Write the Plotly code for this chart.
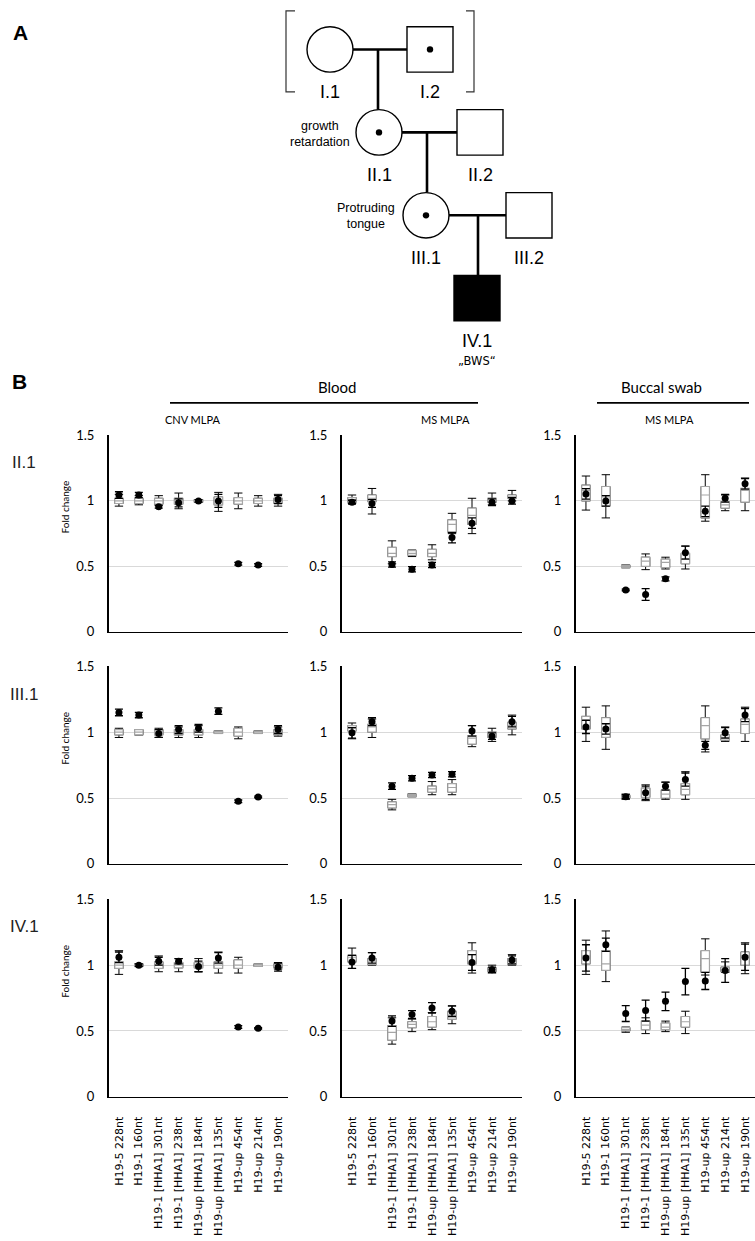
import plotly.graph_objects as go

W, H = 755, 1241

# ---------------- data ----------------
categories = ["H19-5 228nt", "H19-1 160nt", "H19-1 [HHA1] 301nt", "H19-1 [HHA1] 238nt",
              "H19-up [HHA1] 184nt", "H19-up [HHA1] 135nt", "H19-up 454nt",
              "H19-up 214nt", "H19-up 190nt"]
row_names = ["II.1", "III.1", "IV.1"]
y_tick_values = [0, 0.5, 1, 1.5]
y_tick_labels = ["0", "0.5", "1", "1.5"]

# II.1 - blood CNV MLPA
ii1_cnv_q1 = [0.98, 0.98, 0.975, 0.975, 0.99, 0.97, 0.975, 0.98, 0.98]
ii1_cnv_med = [1.0, 1.0, 1.0, 1.0, 1.0, 1.0, 1.0, 1.0, 1.0]
ii1_cnv_q3 = [1.02, 1.02, 1.02, 1.02, 1.01, 1.03, 1.025, 1.02, 1.02]
ii1_cnv_lo = [0.96, 0.97, 0.97, 0.94, 0.99, 0.92, 0.94, 0.96, 0.96]
ii1_cnv_hi = [1.05, 1.04, 1.04, 1.06, 1.01, 1.065, 1.06, 1.04, 1.05]
ii1_cnv_pt = [1.045, 1.045, 0.955, 0.985, 1.0, 1.0, 0.52, 0.51, 1.01]
ii1_cnv_err = [0.025, 0.02, 0.01, 0.03, 0.01, 0.05, 0.01, 0.01, 0.03]

# II.1 - blood MS MLPA
ii1_ms_q1 = [0.99, 0.995, 0.575, 0.585, 0.575, 0.76, 0.82, 0.99, 1.02]
ii1_ms_med = [1.01, 1.02, 0.6, 0.6, 0.6, 0.82, 0.89, 1.0, 1.03]
ii1_ms_q3 = [1.025, 1.045, 0.645, 0.62, 0.63, 0.855, 0.945, 1.02, 1.045]
ii1_ms_lo = [0.98, 0.9, 0.52, 0.575, 0.55, 0.75, 0.75, 0.97, 1.0]
ii1_ms_hi = [1.045, 1.095, 0.695, 0.625, 0.665, 0.905, 1.02, 1.06, 1.08]
ii1_ms_pt = [0.99, 0.98, 0.515, 0.478, 0.51, 0.72, 0.83, 0.99, 1.0]
ii1_ms_err = [0.015, 0.03, 0.02, 0.02, 0.02, 0.04, 0.04, 0.025, 0.025]

# II.1 - buccal swab MS MLPA
ii1_bs_q1 = [1.0, 0.96, 0.49, 0.5, 0.49, 0.52, 0.87, 0.945, 0.99]
ii1_bs_med = [1.08, 1.03, 0.5, 0.54, 0.53, 0.56, 1.045, 0.97, 1.08]
ii1_bs_q3 = [1.12, 1.11, 0.51, 0.57, 0.555, 0.6, 1.11, 0.995, 1.095]
ii1_bs_lo = [0.93, 0.87, 0.49, 0.475, 0.48, 0.48, 0.845, 0.925, 0.925]
ii1_bs_hi = [1.19, 1.2, 0.51, 0.595, 0.57, 0.655, 1.2, 1.045, 1.175]
ii1_bs_pt = [1.053, 1.0, 0.32, 0.285, 0.405, 0.605, 0.92, 1.02, 1.13]
ii1_bs_err = [0.04, 0.04, 0.006, 0.045, 0.015, 0.05, 0.04, 0.03, 0.04]

# III.1 - blood CNV MLPA
iii1_cnv_q1 = [0.98, 0.98, 0.98, 0.98, 0.98, 0.99, 0.97, 0.99, 0.98]
iii1_cnv_med = [1.0, 1.0, 1.0, 1.0, 1.0, 1.0, 1.0, 1.0, 1.0]
iii1_cnv_q3 = [1.02, 1.02, 1.02, 1.02, 1.02, 1.01, 1.03, 1.01, 1.02]
iii1_cnv_lo = [0.96, 0.98, 0.96, 0.96, 0.96, 0.99, 0.95, 0.99, 0.97]
iii1_cnv_hi = [1.03, 1.02, 1.03, 1.04, 1.05, 1.01, 1.04, 1.01, 1.04]
iii1_cnv_pt = [1.15, 1.13, 0.99, 1.02, 1.03, 1.16, 0.475, 0.508, 1.02]
iii1_cnv_err = [0.025, 0.02, 0.03, 0.03, 0.03, 0.025, 0.01, 0.006, 0.03]

# III.1 - blood MS MLPA
iii1_ms_q1 = [1.01, 1.0, 0.425, 0.51, 0.545, 0.545, 0.91, 0.96, 1.025]
iii1_ms_med = [1.03, 1.04, 0.45, 0.52, 0.57, 0.58, 0.955, 0.98, 1.05]
iii1_ms_q3 = [1.05, 1.06, 0.47, 0.53, 0.59, 0.61, 0.975, 1.0, 1.075]
iii1_ms_lo = [0.95, 0.96, 0.41, 0.51, 0.525, 0.525, 0.89, 0.93, 0.98]
iii1_ms_hi = [1.07, 1.1, 0.49, 0.53, 0.625, 0.64, 1.05, 1.03, 1.13]
iii1_ms_pt = [0.995, 1.08, 0.59, 0.65, 0.675, 0.68, 1.01, 0.97, 1.08]
iii1_ms_err = [0.04, 0.03, 0.025, 0.02, 0.02, 0.02, 0.04, 0.025, 0.04]

# III.1 - buccal swab MS MLPA
iii1_bs_q1 = [1.025, 0.96, 0.5, 0.505, 0.5, 0.525, 0.95, 0.94, 0.99]
iii1_bs_med = [1.095, 1.06, 0.51, 0.54, 0.53, 0.565, 1.05, 0.96, 1.06]
iii1_bs_q3 = [1.12, 1.11, 0.52, 0.575, 0.56, 0.61, 1.11, 0.98, 1.1]
iii1_bs_lo = [0.93, 0.87, 0.49, 0.48, 0.49, 0.49, 0.85, 0.93, 0.93]
iii1_bs_hi = [1.19, 1.2, 0.53, 0.6, 0.62, 0.7, 1.2, 1.04, 1.19]
iii1_bs_pt = [1.04, 1.025, 0.51, 0.54, 0.59, 0.64, 0.9, 0.995, 1.13]
iii1_bs_err = [0.05, 0.04, 0.015, 0.05, 0.03, 0.05, 0.03, 0.04, 0.05]

# IV.1 - blood CNV MLPA
iv1_cnv_q1 = [0.975, 0.99, 0.975, 0.98, 0.98, 0.975, 0.975, 0.99, 0.98]
iv1_cnv_med = [1.0, 1.0, 1.0, 1.0, 1.0, 1.0, 1.0, 1.0, 1.0]
iv1_cnv_q3 = [1.025, 1.01, 1.025, 1.02, 1.02, 1.025, 1.04, 1.01, 1.01]
iv1_cnv_lo = [0.93, 0.99, 0.95, 0.95, 0.95, 0.94, 0.94, 0.99, 0.97]
iv1_cnv_hi = [1.11, 1.01, 1.07, 1.05, 1.05, 1.1, 1.06, 1.01, 1.02]
iv1_cnv_pt = [1.06, 1.0, 1.03, 1.03, 0.99, 1.055, 0.53, 0.52, 0.985]
iv1_cnv_err = [0.04, 0.01, 0.03, 0.02, 0.04, 0.04, 0.01, 0.005, 0.03]

# IV.1 - blood MS MLPA
iv1_ms_q1 = [1.025, 1.005, 0.43, 0.525, 0.53, 0.59, 1.01, 0.95, 1.005]
iv1_ms_med = [1.06, 1.03, 0.49, 0.55, 0.57, 0.62, 1.08, 0.965, 1.03]
iv1_ms_q3 = [1.075, 1.05, 0.54, 0.57, 0.61, 0.65, 1.11, 0.98, 1.05]
iv1_ms_lo = [0.975, 1.0, 0.4, 0.495, 0.51, 0.555, 0.94, 0.94, 1.0]
iv1_ms_hi = [1.13, 1.095, 0.6, 0.59, 0.64, 0.69, 1.17, 1.0, 1.08]
iv1_ms_pt = [1.025, 1.055, 0.575, 0.625, 0.675, 0.65, 1.02, 0.965, 1.04]
iv1_ms_err = [0.05, 0.04, 0.04, 0.03, 0.04, 0.04, 0.06, 0.02, 0.03]

# IV.1 - buccal swab MS MLPA
iv1_bs_q1 = [1.01, 0.96, 0.5, 0.51, 0.51, 0.53, 0.945, 0.95, 1.0]
iv1_bs_med = [1.07, 1.01, 0.51, 0.545, 0.53, 0.57, 1.05, 0.965, 1.07]
iv1_bs_q3 = [1.11, 1.11, 0.525, 0.575, 0.56, 0.61, 1.11, 0.985, 1.1]
iv1_bs_lo = [0.93, 0.875, 0.49, 0.48, 0.495, 0.48, 0.925, 0.945, 0.935]
iv1_bs_hi = [1.19, 1.26, 0.53, 0.6, 0.575, 0.65, 1.2, 1.025, 1.17]
iv1_bs_pt = [1.055, 1.155, 0.632, 0.655, 0.725, 0.875, 0.88, 0.96, 1.06]
iv1_bs_err = [0.1, 0.05, 0.06, 0.08, 0.07, 0.1, 0.065, 0.09, 0.1]

# pedigree
ped_ids = ["I.1", "I.2", "II.1", "II.2", "III.1", "III.2", "IV.1"]
ped_sex = ["F", "M", "F", "M", "F", "M", "M"]
ped_carrier = [False, True, True, False, True, False, False]
ped_affected = [False, False, False, False, False, False, True]
ped_notes = ["", "", "growth<br>retardation", "", "Protruding<br>tongue", "", "„BWS“"]

# ---------------- layout helpers ----------------
def px(x):
    return x / W

def py(y):
    return 1 - y / H

panels = [
    [(ii1_cnv_q1, ii1_cnv_med, ii1_cnv_q3, ii1_cnv_lo, ii1_cnv_hi, ii1_cnv_pt, ii1_cnv_err),
     (ii1_ms_q1, ii1_ms_med, ii1_ms_q3, ii1_ms_lo, ii1_ms_hi, ii1_ms_pt, ii1_ms_err),
     (ii1_bs_q1, ii1_bs_med, ii1_bs_q3, ii1_bs_lo, ii1_bs_hi, ii1_bs_pt, ii1_bs_err)],
    [(iii1_cnv_q1, iii1_cnv_med, iii1_cnv_q3, iii1_cnv_lo, iii1_cnv_hi, iii1_cnv_pt, iii1_cnv_err),
     (iii1_ms_q1, iii1_ms_med, iii1_ms_q3, iii1_ms_lo, iii1_ms_hi, iii1_ms_pt, iii1_ms_err),
     (iii1_bs_q1, iii1_bs_med, iii1_bs_q3, iii1_bs_lo, iii1_bs_hi, iii1_bs_pt, iii1_bs_err)],
    [(iv1_cnv_q1, iv1_cnv_med, iv1_cnv_q3, iv1_cnv_lo, iv1_cnv_hi, iv1_cnv_pt, iv1_cnv_err),
     (iv1_ms_q1, iv1_ms_med, iv1_ms_q3, iv1_ms_lo, iv1_ms_hi, iv1_ms_pt, iv1_ms_err),
     (iv1_bs_q1, iv1_bs_med, iv1_bs_q3, iv1_bs_lo, iv1_bs_hi, iv1_bs_pt, iv1_bs_err)],
]

col_px = [(109, 288), (342, 522), (576, 755)]
row_px = [(433, 632), (667, 867), (903, 1103)]

LABEL_FONT = "Lato, Calibri, Carlito, sans-serif"
ARIAL = "Liberation Sans, Arial, sans-serif"

fig = go.Figure()
layout_axes = {}
annotations = []

for r in range(3):
    for c in range(3):
        i = r * 3 + c + 1
        xa = "x" if i == 1 else f"x{i}"
        ya = "y" if i == 1 else f"y{i}"
        q1, med, q3, lo, hi, pt, err = panels[r][c]
        # whiskers (black)
        fig.add_trace(go.Box(x=categories, q1=q1, median=med, q3=q3, lowerfence=lo, upperfence=hi,
                             width=0.42, whiskerwidth=1, line=dict(color="black", width=1),
                             fillcolor="white", boxpoints=False, xaxis=xa, yaxis=ya,
                             showlegend=False, hoverinfo="skip"))
        # grey box
        fig.add_trace(go.Box(x=categories, q1=q1, median=med, q3=q3, lowerfence=q1, upperfence=q3,
                             width=0.42, whiskerwidth=1, line=dict(color="#a6a6a6", width=1.2),
                             fillcolor="white", boxpoints=False, xaxis=xa, yaxis=ya,
                             showlegend=False, hoverinfo="skip"))
        # patient value
        fig.add_trace(go.Scatter(x=categories, y=pt, mode="markers",
                                 marker=dict(color="black", size=7),
                                 error_y=dict(type="data", array=err, color="black",
                                              thickness=1.3, width=4),
                                 xaxis=xa, yaxis=ya, showlegend=False, hoverinfo="skip"))
        x0, x1 = col_px[c]
        yt, yb = row_px[r]
        layout_axes[f"xaxis{i}"] = dict(
            domain=[px(x0), px(x1)], anchor=ya, type="category",
            categoryorder="array", categoryarray=categories, range=[-0.5, 8.5],
            showline=True, linecolor="black", linewidth=1.6, showgrid=False, zeroline=False,
            ticks="", showticklabels=(r == 2), tickangle=-90,
            tickfont=dict(family="DejaVu Sans", size=11, color="black"),
            ticklabelstandoff=14, fixedrange=True)
        layout_axes[f"yaxis{i}"] = dict(
            domain=[py(yb), py(yt)], anchor=xa, range=[0, 1.5],
            tickvals=y_tick_values, ticktext=y_tick_labels,
            showgrid=True, gridcolor="#d9d9d9", gridwidth=1,
            showline=True, linecolor="black", linewidth=2, zeroline=False,
            ticks="", tickfont=dict(family=LABEL_FONT, size=13, color="black"),
            ticklabelstandoff=10, fixedrange=True)
    ya1 = "y" if r == 0 else f"y{r * 3 + 1}"
    annotations.append(dict(text="Fold change", xref="paper", yref=ya1, x=px(65), y=0.95,
                            textangle=-90, showarrow=False, xanchor="center", yanchor="middle",
                            font=dict(family=LABEL_FONT, size=10, color="black")))
    annotations.append(dict(text=row_names[r], xref="paper", yref=ya1, x=px(24), y=1.29,
                            showarrow=False, xanchor="center", yanchor="middle",
                            font=dict(family=ARIAL, size=17, color="#222")))

# section headers
def ann(text, x, y, size, family=LABEL_FONT, anchor="center", bold=False):
    if bold:
        text = f"<b>{text}</b>"
    annotations.append(dict(text=text, xref="paper", yref="paper", x=px(x), y=py(y),
                            showarrow=False, xanchor=anchor, yanchor="middle",
                            font=dict(family=family, size=size, color="black")))

ann("A", 11, 25, 21, ARIAL, "left", True)
ann("B", 10, 378, 21, ARIAL, "left", True)
ann("Blood", 337, 384, 15)
ann("Buccal swab", 661, 384, 15)
ann("CNV MLPA", 193, 417, 11)
ann("MS MLPA", 445, 417, 11)
ann("MS MLPA", 669, 417, 11)

shapes = []
shapes.append(dict(type="line", xref="paper", yref="paper", x0=px(170), x1=px(478),
                   y0=py(400), y1=py(400), line=dict(color="black", width=1.6)))
shapes.append(dict(type="line", xref="paper", yref="paper", x0=px(597), x1=px(749),
                   y0=py(400), y1=py(400), line=dict(color="black", width=1.6)))

# ---------------- pedigree ----------------
ped_x = [330, 430, 379, 480, 426, 529, 477]
ped_y = [42, 42, 126, 126, 210, 210, 294]
half = 23

def pline(xa_, ya_, xb_, yb_, w=2.6):
    shapes.append(dict(type="line", xref="paper", yref="paper", x0=px(xa_), y0=py(ya_),
                       x1=px(xb_), y1=py(yb_), line=dict(color="black", width=w)))

couples = [(0, 1, 2), (2, 3, 4), (4, 5, 6)]
descent_x = [378, 427, 478]
for (a, b, child), dx in zip(couples, descent_x):
    pline(ped_x[a] + half, ped_y[a], ped_x[b] - half, ped_y[b])
    pline(dx, ped_y[a], dx, ped_y[child] - half)

for k in range(len(ped_ids)):
    cx, cy = ped_x[k], ped_y[k]
    fill = "black" if ped_affected[k] else "white"
    shapes.append(dict(type="circle" if ped_sex[k] == "F" else "rect",
                       xref="paper", yref="paper",
                       x0=px(cx - half), x1=px(cx + half), y0=py(cy + half), y1=py(cy - half),
                       line=dict(color="black", width=1.4), fillcolor=fill))
    if ped_carrier[k]:
        shapes.append(dict(type="circle", xref="paper", yref="paper",
                           x0=px(cx - 3.2), x1=px(cx + 3.2), y0=py(cy + 3.2), y1=py(cy - 3.2),
                           line=dict(color="black", width=0), fillcolor="black"))
    ann(ped_ids[k], cx, cy + 43, 18, ARIAL)

ann(ped_notes[2], 352, 128, 12.5, ARIAL, "right")
ann(ped_notes[4], 397, 211, 12.5, ARIAL, "right")
ann(ped_notes[6], ped_x[6], 358, 11.5, "DejaVu Sans, sans-serif")

for path in [f"M {px(295)},{py(3)} L {px(286)},{py(3)} L {px(286)},{py(85)} L {px(295)},{py(85)}",
             f"M {px(466)},{py(3)} L {px(474)},{py(3)} L {px(474)},{py(85)} L {px(466)},{py(85)}"]:
    shapes.append(dict(type="path", xref="paper", yref="paper", path=path,
                       line=dict(color="#333", width=1.2)))

fig.update_layout(
    width=W, height=H, autosize=False,
    margin=dict(l=0, r=0, t=0, b=0),
    paper_bgcolor="white", plot_bgcolor="white",
    showlegend=False, boxmode="overlay",
    annotations=annotations, shapes=shapes,
    **layout_axes,
)

fig.write_html("out.html", config={"displayModeBar": False, "staticPlot": True})

# remove the default page margin so the figure sits at the window's top-left corner
with open("out.html", encoding="utf-8") as f:
    html = f.read()
html = html.replace("<head>", "<head><style>html,body{margin:0;padding:0;overflow:hidden;}</style>", 1)
with open("out.html", "w", encoding="utf-8") as f:
    f.write(html)
